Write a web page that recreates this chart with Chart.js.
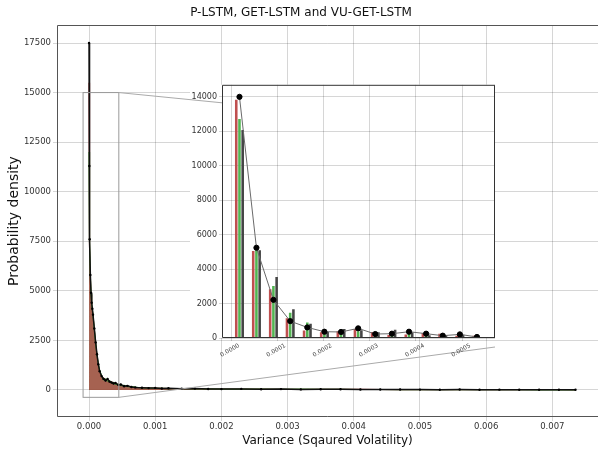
<!doctype html>
<html lang="en">
<head>
<meta charset="utf-8">
<title>P-LSTM, GET-LSTM and VU-GET-LSTM</title>
<script src="https://cdn.jsdelivr.net/npm/chart.js@4.4.1/dist/chart.umd.min.js"></script>
<style>
  html, body { margin: 0; padding: 0; background: #fff; overflow: hidden; }
  #wrap { position: relative; width: 602px; height: 450px; }
  #main { position: absolute; left: 0; top: 0; }
  #inset { position: absolute; left: 175px; top: 78px; }
</style>
</head>
<body>
<div id="wrap">
  <canvas id="main" width="602" height="450"></canvas>
  <canvas id="inset" width="325" height="292"></canvas>
</div>
<script>
// main density curves (variance on x)
const mainX = [0, 0.000005, 0.00001, 0.00002, 0.00003, 0.00004, 0.00005, 0.00006, 0.00008, 0.0001,
  0.00012, 0.00014, 0.00016, 0.00019, 0.00022, 0.00025, 0.00028, 0.00031, 0.00034, 0.00037,
  0.0004, 0.00044, 0.00048, 0.00053, 0.00058, 0.00064, 0.0007, 0.0008, 0.0009, 0.001,
  0.0011, 0.0012, 0.0014, 0.0016, 0.0018, 0.002, 0.0023, 0.0026, 0.0029, 0.0032,
  0.0035, 0.0038, 0.0041, 0.0044, 0.0047, 0.005, 0.0053, 0.0056, 0.0059, 0.0062,
  0.0065, 0.0068, 0.0071, 0.00735]
const pLstm = [15500, 10600, 7300, 5600, 4800, 4300, 4000, 3700, 3000, 2300,
  1700, 1250, 900, 680, 600, 520, 470, 440, 400, 360,
  300, 280, 240, 220, 180, 160, 120, 120, 90, 90,
  80, 70, 65, 55, 55, 40, 45, 40, 35, 35,
  30, 30, 28, 25, 22, 20, 20, 18, 16, 15,
  14, 12, 12, 10]
const getLstm = [12000, 10900, 7500, 5700, 4850, 4350, 4050, 3750, 3050, 2350,
  1750, 1350, 980, 720, 520, 560, 450, 470, 350, 380,
  280, 300, 220, 230, 170, 170, 140, 100, 100, 80,
  85, 65, 70, 50, 60, 45, 40, 45, 30, 40,
  28, 32, 25, 26, 20, 22, 18, 16, 18, 14,
  13, 11, 11, 9]
const vuGetLstm = [17500, 11300, 7600, 5800, 4900, 4400, 4100, 3800, 3100, 2400,
  1800, 1300, 950, 700, 560, 480, 560, 420, 380, 330,
  350, 260, 280, 190, 210, 150, 130, 110, 95, 105,
  75, 85, 60, 70, 50, 45, 55, 35, 45, 30,
  35, 40, 25, 22, 28, 20, 16, 22, 15, 18,
  12, 14, 10, 10]
const mainXTicks = [0, 0.001, 0.002, 0.003, 0.004, 0.005, 0.006, 0.007]
const mainYTicks = [0, 2500, 5000, 7500, 10000, 12500, 15000, 17500]

// inset: first 15 bins
const insetBins = [0.0000183, 0.000055, 0.0000917, 0.000128, 0.000165, 0.000202, 0.000238, 0.000275,
  0.000312, 0.000348, 0.000385, 0.000422, 0.000458, 0.000495, 0.000532]
const insetP = [13830, 5050, 2830, 1150, 440, 330, 385, 520, 350, 175, 210, 290, 250, 135, 135]
const insetGet = [12710, 5100, 3020, 1460, 905, 350, 480, 385, 250, 330, 290, 135, 135, 250, 95]
const insetVu = [12075, 5100, 3540, 1675, 830, 350, 520, 445, 330, 480, 330, 155, 175, 190, 60]
const insetActual = [14000, 5240, 2215, 980, 615, 365, 350, 560, 230, 250, 365, 250, 135, 210, 60]
const insetXTicks = [0, 0.0001, 0.0002, 0.0003, 0.0004, 0.0005]
const insetYTicks = [0, 2000, 4000, 6000, 8000, 10000, 12000, 14000]

// area of the main plot shown in the inset
const zoomBox = { x0: -0.00009, x1: 0.00045, y0: -370, y1: 15000 }

Chart.defaults.font.family = "'DejaVu Sans', sans-serif"
Chart.defaults.color = '#222'
Chart.defaults.animation = false

const gridColor = 'rgba(0,0,0,0.16)'
const pts = (xs, ys) => xs.map((x, i) => ({ x: x, y: ys[i] }))
const fixedTicks = (list) => (scale) => { scale.ticks = list.map((v) => ({ value: v })) }

const frame = {
    id: 'frame',
    beforeDraw(chart, args, opts) {
        if (!opts.fill) return
        const { ctx, chartArea: a } = chart
        ctx.save()
        ctx.fillStyle = '#fff'
        ctx.fillRect(a.left, a.top, a.right - a.left, a.bottom - a.top)
        ctx.restore()
    },
    afterDraw(chart, args, opts) {
        const { ctx, chartArea: a } = chart
        const l = a.left + 0.5, t = a.top + 0.5, r = a.right - 0.5, b = a.bottom - 0.5
        ctx.save()
        ctx.strokeStyle = opts.color || '#444'
        ctx.lineWidth = 1
        ctx.beginPath()
        ctx.moveTo(r + 0.5, t)
        ctx.lineTo(l, t)
        ctx.lineTo(l, b)
        ctx.lineTo(r + 0.5, b)
        if (!opts.openRight) {
            ctx.moveTo(r, t)
            ctx.lineTo(r, b)
        }
        ctx.stroke()
        ctx.restore()
    }
}

const insetOffset = { left: 175, top: 78 }

const insetChart = new Chart(document.getElementById('inset'), {
    type: 'bar',
    data: {
        datasets: [
            {
                type: 'line',
                label: 'Actual',
                data: pts(insetBins, insetActual),
                borderColor: '#6a6a6a',
                borderWidth: 1,
                pointRadius: 2.6,
                pointBackgroundColor: '#000',
                pointBorderColor: '#000',
                order: 0
            },
            { label: 'P-LSTM', data: pts(insetBins, insetP), backgroundColor: '#bf4f4f', order: 1 },
            { label: 'GET-LSTM', data: pts(insetBins, insetGet), backgroundColor: '#52b552', order: 1 },
            { label: 'VU-GET-LSTM', data: pts(insetBins, insetVu), backgroundColor: '#454545', order: 1 }
        ]
    },
    options: {
        responsive: false,
        layout: { padding: { top: 6, right: 5, left: 0, bottom: 0 } },
        barPercentage: 0.8,
        categoryPercentage: 0.58,
        plugins: {
            legend: { display: false },
            tooltip: { enabled: false },
            frame: { color: '#333', fill: true }
        },
        scales: {
            x: {
                type: 'linear',
                offset: false,
                min: -0.0000195,
                max: 0.000571,
                afterFit: (s) => { s.height = 32 },
                afterBuildTicks: fixedTicks(insetXTicks),
                grid: { color: gridColor, tickLength: 3, offset: false },
                border: { display: false },
                ticks: {
                    minRotation: 30,
                    maxRotation: 30,
                    padding: 1,
                    labelOffset: 8,
                    font: { size: 6 },
                    color: '#444',
                    callback: (v) => v.toFixed(4)
                }
            },
            y: {
                min: 0,
                max: 14700,
                afterFit: (s) => { s.width = 47 },
                afterBuildTicks: fixedTicks(insetYTicks),
                grid: { color: gridColor, tickLength: 3 },
                border: { display: false },
                ticks: {
                    padding: 2,
                    font: { size: 8 },
                    color: '#333',
                    callback: (v) => String(v)
                }
            }
        }
    },
    plugins: [frame]
})

// zoom box, connector lines and a white patch behind the inset
const insetMarks = {
    id: 'insetMarks',
    afterDraw(chart) {
        const { ctx, scales: { x, y } } = chart
        const ia = insetChart.chartArea
        const iLeft = ia.left + insetOffset.left
        const iTop = ia.top + insetOffset.top
        const iRight = ia.right + insetOffset.left
        const iBottom = ia.bottom + insetOffset.top
        ctx.save()
        ctx.fillStyle = '#fff'
        ctx.fillRect(iLeft - 32, iTop, iRight - iLeft + 32, iBottom - iTop)

        ctx.strokeStyle = '#999'
        ctx.lineWidth = 1
        const bx0 = x.getPixelForValue(zoomBox.x0)
        const bx1 = x.getPixelForValue(zoomBox.x1)
        const by0 = y.getPixelForValue(zoomBox.y0)
        const by1 = y.getPixelForValue(zoomBox.y1)
        ctx.strokeRect(bx0, by1, bx1 - bx0, by0 - by1)

        ctx.strokeStyle = '#aaa'
        ctx.beginPath()
        ctx.moveTo(bx1, by1)
        ctx.lineTo(iLeft, iTop + 18)
        ctx.moveTo(bx1, by0)
        ctx.lineTo(iRight, iBottom + 9)
        ctx.stroke()
        ctx.restore()
    }
}

new Chart(document.getElementById('main'), {
    type: 'line',
    data: {
        datasets: [
            {
                label: 'VU-GET-LSTM',
                data: pts(mainX, vuGetLstm),
                borderColor: '#111',
                borderWidth: 1.5,
                pointRadius: 1.2,
                pointBackgroundColor: '#000',
                pointBorderWidth: 0,
                fill: false
            },
            {
                label: 'GET-LSTM',
                data: pts(mainX, getLstm),
                borderColor: '#3a9a3a',
                borderWidth: 1.2,
                pointRadius: 0,
                fill: false
            },
            {
                label: 'P-LSTM',
                data: pts(mainX, pLstm),
                borderColor: '#c04848',
                borderWidth: 1.2,
                pointRadius: 0,
                fill: 'origin',
                backgroundColor: 'rgba(150,70,50,0.85)'
            }
        ]
    },
    options: {
        responsive: false,
        layout: { padding: 0 },
        plugins: {
            legend: { display: false },
            tooltip: { enabled: false },
            title: {
                display: true,
                text: 'P-LSTM, GET-LSTM and VU-GET-LSTM',
                font: { size: 12, weight: 'normal' },
                color: '#111',
                padding: { top: 6, bottom: 4.6 }
            },
            frame: { color: '#555', openRight: true }
        },
        scales: {
            x: {
                type: 'linear',
                min: -0.000484,
                max: 0.00769,
                afterFit: (s) => { s.height = 33 },
                afterBuildTicks: fixedTicks(mainXTicks),
                grid: { color: gridColor, tickLength: 4 },
                border: { display: false },
                title: {
                    display: true,
                    text: 'Variance (Sqaured Volatility)',
                    font: { size: 12 },
                    color: '#111',
                    padding: { top: 0, bottom: 1.8 }
                },
                ticks: {
                    maxRotation: 0,
                    padding: 1,
                    font: { size: 8.5 },
                    color: '#333',
                    callback: (v) => v.toFixed(3)
                }
            },
            y: {
                min: -1362,
                max: 18408,
                afterFit: (s) => { s.width = 57 },
                afterBuildTicks: fixedTicks(mainYTicks),
                grid: { color: gridColor, tickLength: 4 },
                border: { display: false },
                title: {
                    display: true,
                    text: 'Probability density',
                    font: { size: 14 },
                    color: '#111',
                    padding: { top: 6.3, bottom: 0 }
                },
                ticks: {
                    padding: 2,
                    font: { size: 8.5 },
                    color: '#333',
                    callback: (v) => String(v)
                }
            }
        }
    },
    plugins: [frame, insetMarks]
})
</script>
</body>
</html>
